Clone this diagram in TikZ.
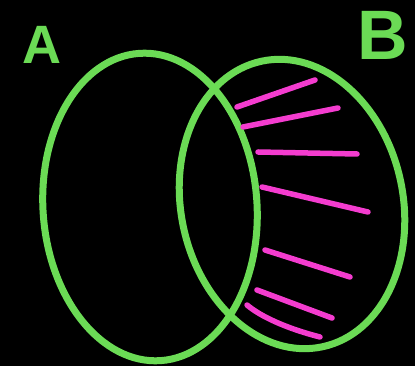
\documentclass[tikz,border=0pt]{standalone}
\usepackage{fontspec}
\setmainfont{Liberation Sans}

\begin{document}
\begin{tikzpicture}[x=1pt, y=1pt,
    vennline/.style={draw=setGreen, line width=7pt},
    hatch/.style={draw=hatchPink, line width=5.5pt, line cap=round},
    setlabel/.style={text=setGreen, inner sep=0pt}]
    \definecolor{setGreen}{HTML}{6BDB55}
    \definecolor{hatchPink}{HTML}{F43CCF}

    % Background
    \fill[black] (0,0) rectangle (415,366);
    \useasboundingbox (0,0) rectangle (415,366);

    % Centres of the two sets
    \coordinate (centreA) at (150,159);
    \coordinate (centreB) at (292,162);

    % Draw set A and set B
    \draw[vennline, rotate around={4:(centreA)}] (centreA) ellipse (107pt and 154pt);
    \draw[vennline, rotate around={12:(centreB)}] (centreB) ellipse (111pt and 146pt);

    % Shade B outside A
    \draw[hatch] (237,259) -- (315,286);
    \draw[hatch] (243,239) -- (338,258);
    \draw[hatch] (258,214) -- (357,212);
    \draw[hatch] (262,179) -- (368,154);
    \draw[hatch] (265,116) -- (350,89);
    \draw[hatch] (257,76) -- (332,48);
    \draw[hatch] (247,61) .. controls (260,50) and (285,38) .. (320,29);

    % Label the sets
    \node[setlabel, font=\bfseries\fontsize{54}{54}\selectfont] (labelA) at (42,321) {A};
    \node[setlabel, font=\bfseries\fontsize{70}{70}\selectfont] (labelB) at (383,331) {B};

\end{tikzpicture}
\end{document}
